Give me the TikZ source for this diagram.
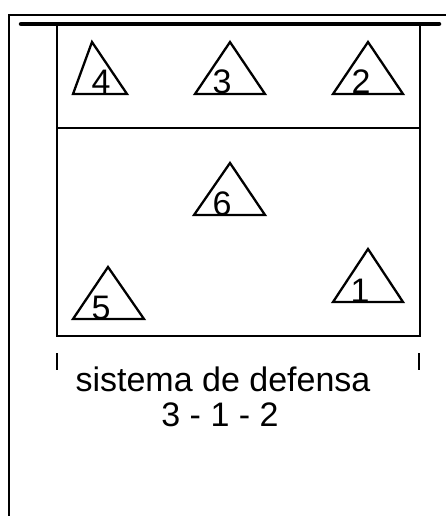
\documentclass[tikz,border=0pt]{standalone}
\usepackage{fontspec}
\setmainfont{Liberation Sans}
\begin{document}
\begin{tikzpicture}[x=1pt,y=-1pt,
  thin line/.style={line width=2.3pt},
  tri/.style={line width=2.3pt, line join=miter},
  num/.style={anchor=base, inner sep=0pt, font=\fontsize{34}{38}\selectfont}]
\useasboundingbox (0,0) rectangle (446,516);
% outer frame (left and top visible)
\draw[thin line] (9,517) -- (9,15) -- (447,15);
% court
\draw[thin line] (57,24) -- (57,336) -- (420,336) -- (420,24);
\draw[thin line] (57,128) -- (420,128);
\draw[line width=4.5pt, line cap=round] (21,24) -- (439,24);
% triangles
\draw[tri] (73,94) -- (92,42) -- (127,94) -- cycle;
\draw[tri] (195,94) -- (230,42) -- (265,94) -- cycle;
\draw[tri] (333,94) -- (368,42) -- (403,94) -- cycle;
\draw[tri] (194,215) -- (230,163) -- (265,215) -- cycle;
\draw[tri] (73,319) -- (108,267) -- (144,319) -- cycle;
\draw[tri] (333,302) -- (368,249) -- (403,302) -- cycle;
% labels
\node[num] (n4) at (101,94) {4};
\node[num] (n3) at (222,94) {3};
\node[num] (n2) at (361,94) {2};
\node[num] (n6) at (222,215) {6};
\node[num] (n5) at (101,319) {5};
\node[num] (n1) at (360,302) {1};
% ticks
\draw[thin line] (57,353) -- (57,370);
\draw[thin line] (419,353) -- (419,370);
% caption
\node[num] (cap1) at (223,391) {sistema de defensa};
\node[num] (cap2) at (220,426) {3 - 1 - 2};
\end{tikzpicture}
\end{document}
